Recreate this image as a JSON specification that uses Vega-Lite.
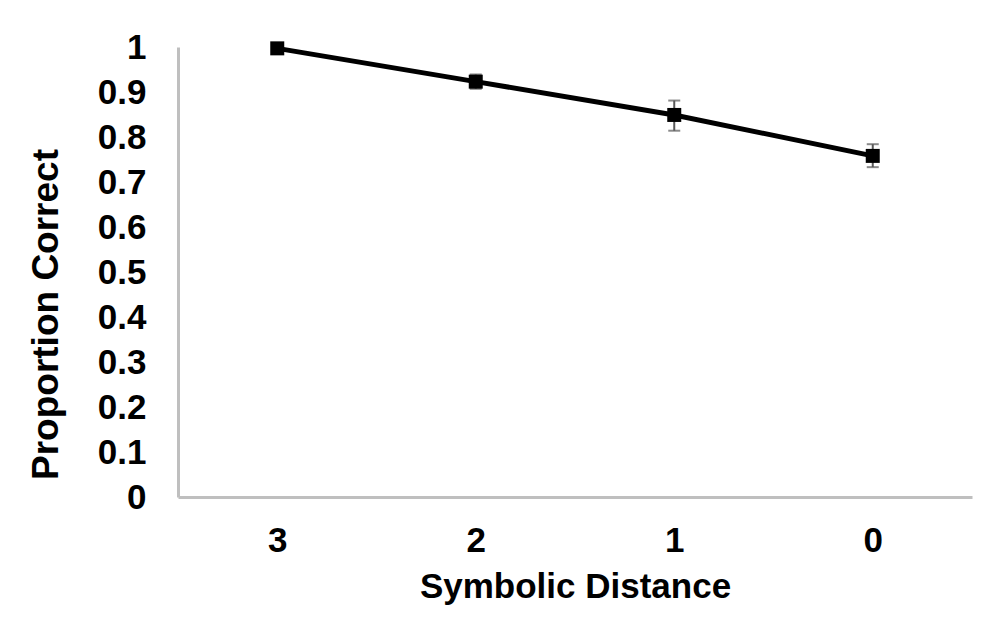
{
  "$schema": "https://vega.github.io/schema/vega-lite/v6.json",
  "autosize": {"type": "none"},
  "width": 794,
  "height": 450,
  "padding": {"left": 178, "top": 47, "right": 17, "bottom": 144},
  "background": "white",
  "config": {
    "view": {"stroke": null},
    "font": "Liberation Sans",
    "axis": {
      "labelFont": "Liberation Sans",
      "titleFont": "Liberation Sans",
      "labelFontWeight": "bold",
      "titleFontWeight": "bold",
      "labelColor": "black",
      "titleColor": "black",
      "labelFontSize": 35,
      "titleFontSize": 35,
      "domainColor": "#BFBFBF",
      "domainWidth": 3,
      "ticks": false,
      "grid": false
    }
  },
  "data": {
    "values": [
      {"distance": "3", "mean": 0.997, "lo": 0.994, "hi": 1.0},
      {"distance": "2", "mean": 0.923, "lo": 0.907, "hi": 0.939},
      {"distance": "1", "mean": 0.849, "lo": 0.814, "hi": 0.881},
      {"distance": "0", "mean": 0.758, "lo": 0.733, "hi": 0.784}
    ]
  },
  "encoding": {
    "x": {
      "field": "distance",
      "type": "nominal",
      "sort": ["3", "2", "1", "0"],
      "scale": {"type": "point", "padding": 0.5},
      "axis": {"title": "Symbolic Distance", "labelAngle": 0, "labelPadding": 26, "titlePadding": 11}
    }
  },
  "layer": [
    {
      "mark": {"type": "rule", "color": "#595959", "strokeWidth": 2},
      "encoding": {
        "y": {"field": "lo", "type": "quantitative"},
        "y2": {"field": "hi"}
      }
    },
    {
      "mark": {"type": "tick", "color": "#595959", "thickness": 2, "size": 12, "orient": "horizontal"},
      "encoding": {"y": {"field": "lo", "type": "quantitative"}}
    },
    {
      "mark": {"type": "tick", "color": "#595959", "thickness": 2, "size": 12, "orient": "horizontal"},
      "encoding": {"y": {"field": "hi", "type": "quantitative"}}
    },
    {
      "mark": {"type": "line", "color": "black", "strokeWidth": 5},
      "encoding": {
        "y": {
          "field": "mean",
          "type": "quantitative",
          "scale": {"domain": [0, 1], "nice": false, "zero": true},
          "axis": {
            "title": "Proportion Correct",
            "titleFontSize": 37,
            "values": [0, 0.1, 0.2, 0.3, 0.4, 0.5, 0.6, 0.7, 0.8, 0.9, 1],
            "format": "~g",
            "labelPadding": 32,
            "titleX": -113,
            "titleY": 267,
            "titleAngle": -90,
            "titleAlign": "center",
            "titleBaseline": "bottom"
          }
        }
      }
    },
    {
      "mark": {"type": "point", "shape": "square", "filled": true, "opacity": 1, "color": "black", "size": 196},
      "encoding": {"y": {"field": "mean", "type": "quantitative"}}
    }
  ]
}
